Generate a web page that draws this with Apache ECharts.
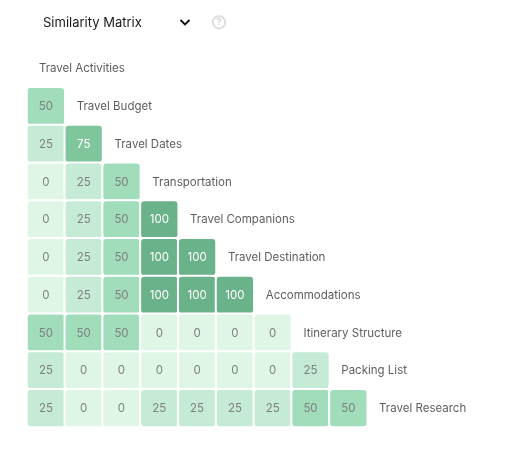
<!DOCTYPE html>
<html>
<head>
<meta charset="utf-8">
<style>
  html, body { margin: 0; padding: 0; background: #fff; }
  #chart { width: 521px; height: 461px; }
</style>
<script src="https://cdn.jsdelivr.net/npm/echarts@6/dist/echarts.min.js"></script>
</head>
<body>
<div id="chart"></div>
<script>
// Items compared in the matrix, top to bottom.
const items = [
  'Travel Activities', 'Travel Budget', 'Travel Dates', 'Transportation',
  'Travel Companions', 'Travel Destination', 'Accommodations',
  'Itinerary Structure', 'Packing List', 'Travel Research'
];

// Lower-triangle similarity scores: one row per item after the first.
const rowBudget = [50];
const rowDates = [25, 75];
const rowTransport = [0, 25, 50];
const rowCompanions = [0, 25, 50, 100];
const rowDestination = [0, 25, 50, 100, 100];
const rowAccommodations = [0, 25, 50, 100, 100, 100];
const rowItinerary = [50, 50, 50, 0, 0, 0, 0];
const rowPacking = [25, 0, 0, 0, 0, 0, 0, 25];
const rowResearch = [25, 0, 0, 25, 25, 25, 25, 50, 50];

const scoreRows = [
  rowBudget, rowDates, rowTransport, rowCompanions, rowDestination,
  rowAccommodations, rowItinerary, rowPacking, rowResearch
];

const scoreStops = ['#dff6e7', '#c5ead6', '#a1ddbb', '#80c69d', '#6ab289'];
const FONT = 'Inter, "Open Sans", sans-serif';

const cells = [];
scoreRows.forEach((row, r) => {
  row.forEach((score, c) => {
    cells.push({
      value: [c, r + 1, score],
      label: { color: score >= 75 ? '#ffffff' : '#808080' }
    });
  });
});

const chart = echarts.init(document.getElementById('chart'), null, { renderer: 'canvas' });

chart.setOption({
  animation: false,
  backgroundColor: '#ffffff',
  title: {
    text: 'Similarity Matrix',
    left: 43,
    top: 16.5,
    padding: 0,
    textStyle: { fontFamily: FONT, fontSize: 13, fontWeight: 400, color: '#1a1a1a' }
  },
  grid: { left: 27, top: 49.5, width: 378, height: 377.5 },
  xAxis: { type: 'category', data: items, show: false },
  yAxis: { type: 'category', data: items, inverse: true, show: false },
  visualMap: {
    show: false,
    seriesIndex: 0,
    dimension: 2,
    min: 0,
    max: 100,
    inRange: { color: scoreStops }
  },
  series: [
    {
      type: 'heatmap',
      data: cells,
      itemStyle: { borderColor: '#ffffff', borderWidth: 2, borderRadius: 4 },
      label: {
        show: true,
        fontFamily: FONT,
        fontSize: 11.5,
        offset: [0, 0.5],
        formatter: p => p.value[2]
      },
      emphasis: { disabled: true }
    },
    {
      // Item names sit on the diagonal, just past the last cell of each row.
      type: 'scatter',
      symbolSize: 0,
      data: items.map((name, i) => [i, i]),
      label: {
        show: true,
        position: 'right',
        offset: [-12, 0.5],
        fontFamily: FONT,
        fontSize: 11.5,
        color: '#333333',
        formatter: p => items[p.dataIndex]
      }
    }
  ],
  graphic: [
    {
      // Dropdown chevron
      type: 'polyline',
      shape: { points: [[180.5, 20], [185, 24.5], [189.5, 20]] },
      style: { stroke: '#111111', lineWidth: 1.8, fill: null }
    },
    {
      // Help icon
      type: 'circle',
      shape: { cx: 219, cy: 22.3, r: 6.2 },
      style: { stroke: '#dcdcdc', lineWidth: 1.8, fill: null }
    },
    {
      type: 'text',
      style: {
        x: 219, y: 22.5, text: '?', align: 'center', verticalAlign: 'middle',
        font: '600 9px ' + FONT, fill: '#d0d0d0'
      }
    }
  ]
});
</script>
</body>
</html>
